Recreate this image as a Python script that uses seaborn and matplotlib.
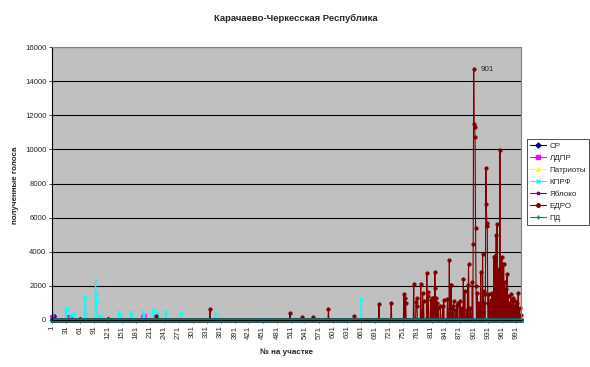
import numpy as np
import pandas as pd
import seaborn as sns
import matplotlib
matplotlib.use("Agg")
import matplotlib.pyplot as plt
from matplotlib.lines import Line2D

N_STATIONS = 1002
tick_labels = list(range(1, 992, 30))
y_ticks = [0, 2000, 4000, 6000, 8000, 10000, 12000, 14000, 16000]

# --- data (station number -> votes); other stations ~0 ---
sr_st = [1, 2, 3, 6]
sr_v = [150, 120, 80, 235]

ldpr_st = [1, 2, 38, 39, 196, 197]
ldpr_v = [200, 150, 190, 120, 200, 235]

patr_st = [850, 856, 870, 880, 900, 910, 925, 945, 950, 960, 975]
patr_v = [100, 90, 110, 90, 100, 90, 100, 110, 90, 100, 90]

kprf_st = [31, 32, 41, 48, 71, 72, 73, 94, 95, 96, 100, 105, 144, 146, 169, 171,
           196, 198, 217, 218, 228, 244, 277, 350, 661]
kprf_v = [590, 630, 300, 390, 1370, 800, 300, 2310, 1500, 1100, 250, 250, 490, 300,
          490, 300, 490, 300, 550, 590, 390, 490, 390, 350, 1220]

yabl_st = [4, 5, 60, 120]
yabl_v = [120, 90, 100, 100]

edro_st = [223, 338, 509, 535, 557, 591, 646, 699, 725,
           752, 755, 756, 773, 778, 779, 780, 788, 792, 794, 801, 803, 804,
           809, 811, 814, 818, 819, 821, 823, 825, 830, 835, 837, 845, 849,
           852, 853, 856, 858, 862, 865, 867, 872, 876, 879, 882, 886, 888,
           890, 894, 898, 900, 901, 902, 903, 904, 905, 906, 908, 910, 912,
           916, 920, 922, 924, 926, 927, 928, 929, 930, 931, 933, 935, 938,
           940, 944, 946, 949, 951, 953, 955, 957, 959, 961, 963, 965, 967,
           970, 972, 975, 977, 980, 982, 985, 988, 990, 993, 996, 999, 1001]
edro_v = [235, 630, 390, 160, 160, 630, 235, 960, 1020,
          1530, 1270, 1000, 2100, 1080, 1270, 840, 2100, 1610, 1100, 2780, 1650, 1400,
          1200, 1300, 1300, 2840, 1900, 1300, 1000, 700, 800, 800, 1200, 1250, 3490,
          2060, 2060, 800, 1100, 600, 900, 1000, 1100, 700, 2390, 1700, 600, 2060,
          3290, 700, 2200, 4450, 14700, 11500, 11300, 10700, 5390, 2000, 1600, 1000, 900,
          2840, 3860, 1700, 1000, 1500, 8920, 6800, 5690, 5490, 1000, 1500, 800, 1200,
          1600, 3690, 3760, 4960, 5640, 2000, 3000, 9960, 2400, 3720, 3300, 3280, 2200,
          1800, 2700, 1400, 1000, 1500, 1200, 1300, 800, 1100, 1000, 1600, 700, 300]

pd_st = [1]
pd_v = [0]

series = [
    ("СР", sr_st, sr_v, "#000080", "D"),
    ("ЛДПР", ldpr_st, ldpr_v, "#FF00FF", "s"),
    ("Патриоты", patr_st, patr_v, "#FFFF00", "^"),
    ("КПРФ", kprf_st, kprf_v, "#00FFFF", "x"),
    ("Яблоко", yabl_st, yabl_v, "#800080", "*"),
    ("ЕДРО", edro_st, edro_v, "#800000", "o"),
    ("ПД", pd_st, pd_v, "#008080", "+"),
]

stations = np.arange(1, N_STATIONS + 1)
frames = []
for name, st, v, _, _ in series:
    arr = np.zeros(N_STATIONS)
    arr[np.array(st) - 1] = v
    frames.append(pd.DataFrame({"station": stations, "votes": arr, "party": name}))
df = pd.concat(frames, ignore_index=True)

sns.set_theme(style="white")
plt.rcParams["font.family"] = ["Liberation Sans", "DejaVu Sans"]

fig = plt.figure(figsize=(5.9, 3.67), dpi=100)
ax = fig.add_axes([52 / 590, 1 - 320 / 367, (521 - 52) / 590, (320 - 47) / 367])
ax.set_facecolor("#C0C0C0")

for name, st, v, col, mk in series:
    sub = df[df["party"] == name]
    ms = 2.2 if name != "ЕДРО" else 2.4
    sns.lineplot(data=sub, x="station", y="votes", ax=ax, color=col, linewidth=0.8,
                 marker=mk, markersize=ms, markeredgewidth=0.6, markeredgecolor=col,
                 clip_on=False, legend=False)

ax.set_xlim(1, N_STATIONS)
ax.set_ylim(0, 16000)
ax.set_yticks(y_ticks)
ax.set_yticklabels([str(t) for t in y_ticks], fontsize=5.6)
ax.set_xticks(tick_labels)
ax.set_xticklabels([str(t) for t in tick_labels], rotation=90, fontsize=5.6)
ax.tick_params(axis="both", length=2.5, width=0.6, direction="out", pad=1.5,
               bottom=True, left=True)
ax.grid(axis="y", color="#000000", linewidth=0.8)
ax.set_axisbelow(True)
for s in ["top", "right"]:
    ax.spines[s].set_color("#808080")
    ax.spines[s].set_linewidth(0.8)
for s in ["left", "bottom"]:
    ax.spines[s].set_color("#000000")
    ax.spines[s].set_linewidth(0.8)

ax.set_xlabel("")
ax.set_ylabel("")
ax.annotate("901", xy=(901, 14700), xytext=(5, 0), textcoords="offset points",
            fontsize=5.8, va="center", ha="left")

fig.text(296 / 590, 1 - 18 / 367, "Карачаево-Черкесская Республика", ha="center",
         va="center", fontsize=6.8, fontweight="bold")
fig.text(16 / 590, 1 - 185 / 367, "полученные голоса", ha="center", va="center",
         rotation=90, fontsize=5.8, fontweight="bold")
fig.text(287 / 590, 1 - 352 / 367, "№ на участке", ha="center", va="center",
         fontsize=5.8, fontweight="bold")

handles = [Line2D([0], [0], color=col, marker=mk, markersize=2.5, linewidth=0.8,
                  markeredgecolor=col) for _, _, _, col, mk in series]
leg = fig.legend(handles, [s[0] for s in series], loc="upper left",
                 bbox_to_anchor=(527 / 590, 1 - 139 / 367), fontsize=5.8,
                 frameon=True, fancybox=False, edgecolor="#000000",
                 handlelength=2.0, handletextpad=0.4, labelspacing=0.55,
                 borderpad=0.4, borderaxespad=0)
leg.get_frame().set_linewidth(0.6)

fig.savefig("out.png", dpi=100)
